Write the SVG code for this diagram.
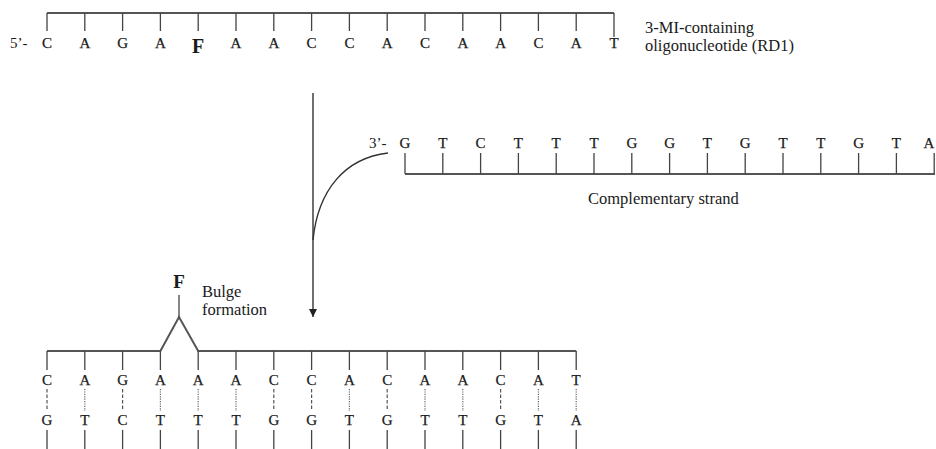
<svg xmlns="http://www.w3.org/2000/svg" width="936" height="449" viewBox="0 0 936 449">
<style>
text{font-family:"Liberation Serif","Times New Roman","DejaVu Serif",serif;fill:#1a1a1a}
.n{font-size:15px;text-anchor:middle;stroke:#1a1a1a;stroke-width:0.25}
.lab{font-size:16.5px}
.f{font-size:20px;font-weight:bold;text-anchor:middle}
.bb{fill:none;stroke:#555;stroke-width:2}
.tk{fill:none;stroke:#444;stroke-width:1.3}
.gc{stroke:#555;stroke-width:1.2;stroke-dasharray:3.5 2}
.at{stroke:#666;stroke-width:1.2;stroke-dasharray:1.2 1.2}
.cn{fill:none;stroke:#333;stroke-width:1.4}
</style>
<defs>
<marker id="ah" viewBox="0 0 10 10" refX="10" refY="5" markerWidth="8" markerHeight="8" markerUnits="userSpaceOnUse" orient="auto">
<path d="M0,0L10,5L0,10z" fill="#222"/>
</marker>
</defs>

<g id="strand-rd1">
<path class="bb" d="M47,13H614"/>
<path class="tk" d="M47,13V31M84.8,13V31M122.6,13V31M160.4,13V31M198.2,13V31M236,13V31M273.8,13V31M311.6,13V31M349.4,13V31M387.2,13V31M425,13V31M462.8,13V31M500.6,13V31M538.4,13V31M576.2,13V31M614,13V37"/>
<text x="10" y="48" style="font-size:15px">5’-</text>
<text class="n" y="48"><tspan x="47">C</tspan><tspan x="84.8">A</tspan><tspan x="122.6">G</tspan><tspan x="160.4">A</tspan><tspan x="236">A</tspan><tspan x="273.8">A</tspan><tspan x="311.6">C</tspan><tspan x="349.4">C</tspan><tspan x="387.2">A</tspan><tspan x="425">C</tspan><tspan x="462.8">A</tspan><tspan x="500.6">A</tspan><tspan x="538.4">C</tspan><tspan x="576.2">A</tspan><tspan x="614">T</tspan></text>
<text class="f" x="198.2" y="53">F</text>
</g>

<g id="label-rd1">
<text class="lab" x="645" y="33">3-MI-containing</text>
<text class="lab" x="645" y="51">oligonucleotide (RD1)</text>
</g>

<g id="strand-complement">
<path class="bb" d="M405,174H935"/>
<path class="tk" d="M405,153V174M442.8,153V174M480.6,153V174M518.4,153V174M556.2,153V174M594,153V174M631.8,153V174M669.6,153V174M707.4,153V174M745.2,153V174M783,153V174M820.8,153V174M858.6,153V174M896.4,153V174M934.2,153V174"/>
<text x="369" y="148" style="font-size:15px">3’-</text>
<text class="n" y="148"><tspan x="405">G</tspan><tspan x="442.8">T</tspan><tspan x="480.6">C</tspan><tspan x="518.4">T</tspan><tspan x="556.2">T</tspan><tspan x="594">T</tspan><tspan x="631.8">G</tspan><tspan x="669.6">G</tspan><tspan x="707.4">T</tspan><tspan x="745.2">G</tspan><tspan x="783">T</tspan><tspan x="820.8">T</tspan><tspan x="858.6">G</tspan><tspan x="896.4">T</tspan><tspan x="929">A</tspan></text>
</g>

<g id="label-complement">
<text class="lab" x="588" y="204">Complementary strand</text>
</g>

<g id="duplex">
<path class="bb" d="M47,351H160.4L179,317L198.2,351H576.2"/>
<path class="tk" d="M179,295V317"/>
<path class="tk" d="M47,351V370M84.8,351V370M122.6,351V370M160.4,351V370M198.2,351V370M236,351V370M273.8,351V370M311.6,351V370M349.4,351V370M387.2,351V370M425,351V370M462.8,351V370M500.6,351V370M538.4,351V370M576.2,351V370"/>
<text class="f" x="179" y="288" style="font-size:19px">F</text>
<text class="n" y="385"><tspan x="47">C</tspan><tspan x="84.8">A</tspan><tspan x="122.6">G</tspan><tspan x="160.4">A</tspan><tspan x="198.2">A</tspan><tspan x="236">A</tspan><tspan x="273.8">C</tspan><tspan x="311.6">C</tspan><tspan x="349.4">A</tspan><tspan x="387.2">C</tspan><tspan x="425">A</tspan><tspan x="462.8">A</tspan><tspan x="500.6">C</tspan><tspan x="538.4">A</tspan><tspan x="576.2">T</tspan></text>
<path class="gc" d="M47,389V411M122.6,389V411M273.8,389V411M311.6,389V411M387.2,389V411M500.6,389V411"/>
<path class="at" d="M84.8,389V411M160.4,389V411M198.2,389V411M236,389V411M349.4,389V411M425,389V411M462.8,389V411M538.4,389V411M576.2,389V411"/>
<text class="n" y="425"><tspan x="47">G</tspan><tspan x="84.8">T</tspan><tspan x="122.6">C</tspan><tspan x="160.4">T</tspan><tspan x="198.2">T</tspan><tspan x="236">T</tspan><tspan x="273.8">G</tspan><tspan x="311.6">G</tspan><tspan x="349.4">T</tspan><tspan x="387.2">G</tspan><tspan x="425">T</tspan><tspan x="462.8">T</tspan><tspan x="500.6">G</tspan><tspan x="538.4">T</tspan><tspan x="576.2">A</tspan></text>
<path class="tk" d="M47,430V449M84.8,430V449M122.6,430V449M160.4,430V449M198.2,430V449M236,430V449M273.8,430V449M311.6,430V449M349.4,430V449M387.2,430V449M425,430V449M462.8,430V449M500.6,430V449M538.4,430V449M576.2,430V449"/>
</g>

<g id="label-bulge">
<text class="lab" x="202" y="297">Bulge</text>
<text class="lab" x="202" y="315">formation</text>
</g>

<g id="connectors">
<path class="cn" d="M313,93V317" marker-end="url(#ah)"/>
<path class="cn" d="M388,153C345,158 318,190 313,240"/>
</g>
</svg>
